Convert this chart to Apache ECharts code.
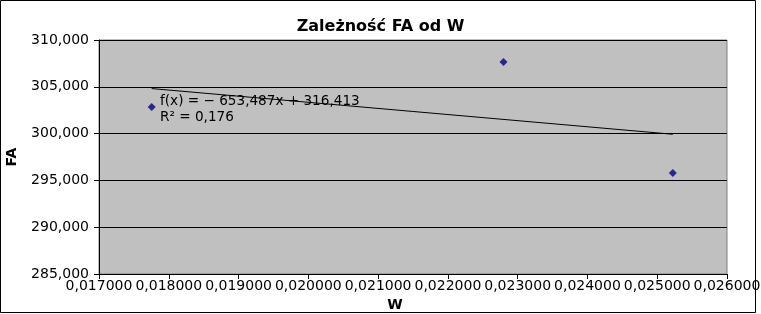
<!DOCTYPE html>
<html>
<head>
<meta charset="utf-8">
<script src="https://cdn.jsdelivr.net/npm/echarts@6/dist/echarts.min.js"></script>
<style>
  html, body { margin: 0; padding: 0; background: #fff; }
  #container { width: 761px; height: 314px; }
</style>
</head>
<body>
<div id="container"></div>
<script>
// data
var wValues = [0.017755, 0.022797, 0.025223];
var faValues = [302.83, 307.65, 295.78];
// trend line as printed on the chart
var slope = -653.487;
var intercept = 316.413;
var rSquared = '0,176';
var xTicks = { min: 0.017, max: 0.026, step: 0.001 };
var yTicks = { min: 285, max: 310, step: 5 };

var font = 'DejaVu Sans';

function plFixed(v, d) {
    return v.toFixed(d).replace('.', ',');
}

var points = [];
for (var i = 0; i < wValues.length; i++) {
    points.push([wValues[i], faValues[i]]);
}
var xFirst = Math.min.apply(null, wValues);
var xLast = Math.max.apply(null, wValues);
var trend = [
    [xFirst, slope * xFirst + intercept],
    [xLast, slope * xLast + intercept]
];

var myChart = echarts.init(document.getElementById('container'));
var option = {
    animation: false,
    title: {
        text: 'Zależność FA od W',
        left: 'center',
        top: 14,
        textStyle: { fontFamily: font, fontSize: 16, fontWeight: 'bold', color: '#000' }
    },
    grid: {
        left: 99, top: 40, width: 628, height: 234,
        outerBoundsMode: 'none',
        containLabel: false,
        show: true,
        backgroundColor: '#c0c0c0',
        borderColor: '#808080',
        borderWidth: 1
    },
    xAxis: {
        type: 'value',
        min: xTicks.min, max: xTicks.max, interval: xTicks.step,
        name: 'W',
        nameLocation: 'middle',
        nameGap: 17,
        nameTextStyle: { fontFamily: font, fontSize: 14, fontWeight: 'bold', color: '#000', padding: [0, 36, 0, 0] },
        axisLine: { lineStyle: { color: '#000', width: 1 } },
        axisTick: { show: true, inside: false, length: 5, lineStyle: { color: '#000' } },
        axisLabel: {
            margin: 5,
            fontFamily: font, fontSize: 14, color: '#000',
            formatter: function (v) { return plFixed(v, 6); }
        },
        splitLine: { show: false }
    },
    yAxis: {
        type: 'value',
        min: yTicks.min, max: yTicks.max, interval: yTicks.step,
        name: 'FA',
        nameLocation: 'middle',
        nameGap: 80,
        nameTextStyle: { fontFamily: font, fontSize: 14, fontWeight: 'bold', color: '#000' },
        axisLine: { show: true, lineStyle: { color: '#000', width: 1 } },
        axisTick: { show: true, inside: false, length: 5, lineStyle: { color: '#000' } },
        axisLabel: {
            margin: 10,
            fontFamily: font, fontSize: 14, color: '#000',
            formatter: function (v) { return plFixed(v, 3); }
        },
        splitLine: { show: true, lineStyle: { color: '#000', width: 1 } }
    },
    graphic: [
        {
            type: 'rect',
            shape: { x: 0.5, y: 0.5, width: 755, height: 312 },
            style: { fill: 'none', stroke: '#000', lineWidth: 1 },
            silent: true
        },
        {
            type: 'text',
            left: 160, top: 93,
            style: {
                text: 'f(x) = − ' + plFixed(-slope, 3) + 'x + ' + plFixed(intercept, 3) + '\nR² = ' + rSquared,
                font: '13.6px "DejaVu Sans"',
                lineHeight: 16,
                fill: '#000'
            },
            z: 10
        }
    ],
    series: [
        {
            name: 'trend',
            type: 'line',
            data: trend,
            symbol: 'none',
            lineStyle: { color: '#000', width: 1 },
            z: 2
        },
        {
            name: 'FA',
            type: 'scatter',
            data: points,
            symbol: 'diamond',
            symbolSize: 8,
            itemStyle: { color: '#000080' },
            z: 3
        }
    ]
};
myChart.setOption(option);
</script>
</body>
</html>
